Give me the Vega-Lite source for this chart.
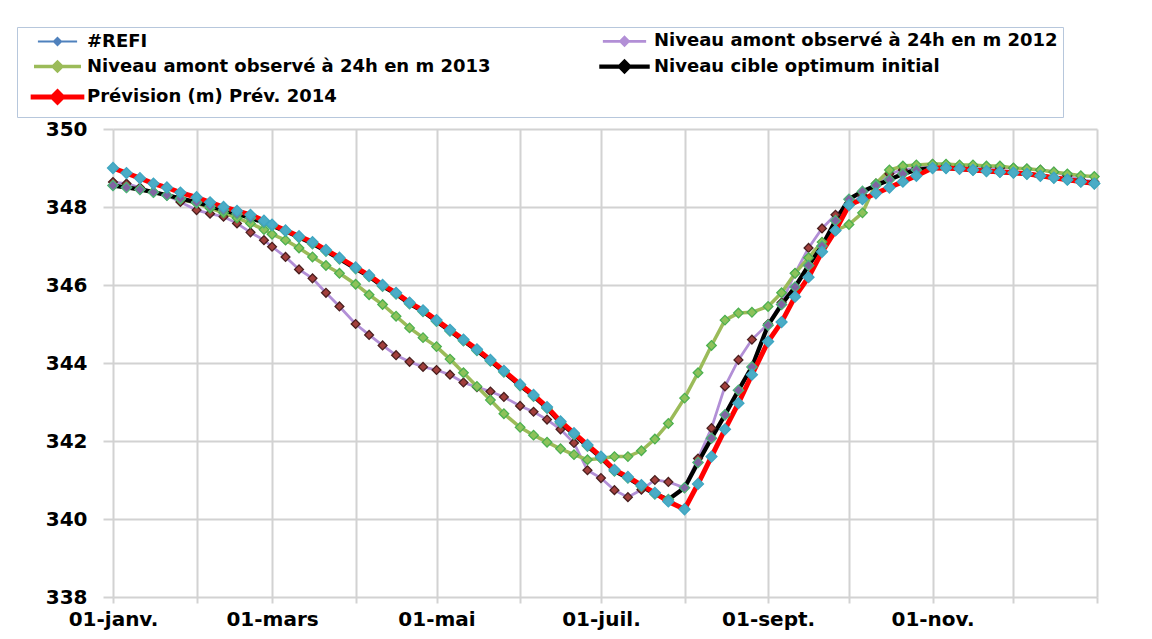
{
"$schema": "https://vega.github.io/schema/vega-lite/v6.json",
"width": 984, "height": 468,
"autosize": {"type": "none"},
"padding": {"left": 113, "top": 129, "right": 55, "bottom": 42},
"background": "white",
"config": {"view": {"stroke": null}, "font": "DejaVu Sans"},
"datasets": {"raw": [
{"s":"a12","d":"2014-01-01","v":348.64},{"s":"a12","d":"2014-01-06","v":348.6},{"s":"a12","d":"2014-01-11","v":348.5},{"s":"a12","d":"2014-01-16","v":348.38},{"s":"a12","d":"2014-01-21","v":348.3},{"s":"a12","d":"2014-01-26","v":348.13},
{"s":"a12","d":"2014-02-01","v":347.92},{"s":"a12","d":"2014-02-06","v":347.83},{"s":"a12","d":"2014-02-11","v":347.75},{"s":"a12","d":"2014-02-16","v":347.58},{"s":"a12","d":"2014-02-21","v":347.35},{"s":"a12","d":"2014-02-26","v":347.15},
{"s":"a12","d":"2014-03-01","v":346.98},{"s":"a12","d":"2014-03-06","v":346.72},{"s":"a12","d":"2014-03-11","v":346.4},{"s":"a12","d":"2014-03-16","v":346.17},{"s":"a12","d":"2014-03-21","v":345.8},{"s":"a12","d":"2014-03-26","v":345.45},
{"s":"a12","d":"2014-04-01","v":345.0},{"s":"a12","d":"2014-04-06","v":344.72},{"s":"a12","d":"2014-04-11","v":344.45},{"s":"a12","d":"2014-04-16","v":344.2},{"s":"a12","d":"2014-04-21","v":344.03},{"s":"a12","d":"2014-04-26","v":343.9},
{"s":"a12","d":"2014-05-01","v":343.82},{"s":"a12","d":"2014-05-06","v":343.7},{"s":"a12","d":"2014-05-11","v":343.5},{"s":"a12","d":"2014-05-16","v":343.38},{"s":"a12","d":"2014-05-21","v":343.27},{"s":"a12","d":"2014-05-26","v":343.13},
{"s":"a12","d":"2014-06-01","v":342.9},{"s":"a12","d":"2014-06-06","v":342.75},{"s":"a12","d":"2014-06-11","v":342.55},{"s":"a12","d":"2014-06-16","v":342.3},{"s":"a12","d":"2014-06-21","v":341.95},{"s":"a12","d":"2014-06-26","v":341.25},
{"s":"a12","d":"2014-07-01","v":341.05},{"s":"a12","d":"2014-07-06","v":340.74},{"s":"a12","d":"2014-07-11","v":340.56},{"s":"a12","d":"2014-07-16","v":340.75},{"s":"a12","d":"2014-07-21","v":341.0},{"s":"a12","d":"2014-07-26","v":340.95},
{"s":"a12","d":"2014-08-01","v":340.8},{"s":"a12","d":"2014-08-06","v":341.55},{"s":"a12","d":"2014-08-11","v":342.33},{"s":"a12","d":"2014-08-16","v":343.4},{"s":"a12","d":"2014-08-21","v":344.08},{"s":"a12","d":"2014-08-26","v":344.6},
{"s":"a12","d":"2014-09-01","v":345.0},{"s":"a12","d":"2014-09-06","v":345.55},{"s":"a12","d":"2014-09-11","v":346.3},{"s":"a12","d":"2014-09-16","v":346.95},{"s":"a12","d":"2014-09-21","v":347.45},{"s":"a12","d":"2014-09-26","v":347.8},
{"s":"a12","d":"2014-10-01","v":348.05},{"s":"a12","d":"2014-10-06","v":348.3},{"s":"a12","d":"2014-10-11","v":348.6},{"s":"a12","d":"2014-10-16","v":348.85},{"s":"a12","d":"2014-10-21","v":348.95},{"s":"a12","d":"2014-10-26","v":349.0},
{"s":"a12","d":"2014-11-01","v":349.1},{"s":"a12","d":"2014-11-06","v":349.08},{"s":"a12","d":"2014-11-11","v":349.05},{"s":"a12","d":"2014-11-16","v":349.05},{"s":"a12","d":"2014-11-21","v":349.02},{"s":"a12","d":"2014-11-26","v":349.0},
{"s":"a12","d":"2014-12-01","v":349.0},{"s":"a12","d":"2014-12-06","v":348.98},{"s":"a12","d":"2014-12-11","v":348.95},{"s":"a12","d":"2014-12-16","v":348.9},{"s":"a12","d":"2014-12-21","v":348.8},{"s":"a12","d":"2014-12-26","v":348.7},{"s":"a12","d":"2014-12-31","v":348.65},
{"s":"b13","d":"2014-01-01","v":348.55},{"s":"b13","d":"2014-01-06","v":348.5},{"s":"b13","d":"2014-01-11","v":348.45},{"s":"b13","d":"2014-01-16","v":348.38},{"s":"b13","d":"2014-01-21","v":348.3},{"s":"b13","d":"2014-01-26","v":348.2},
{"s":"b13","d":"2014-02-01","v":348.1},{"s":"b13","d":"2014-02-06","v":347.97},{"s":"b13","d":"2014-02-11","v":347.85},{"s":"b13","d":"2014-02-16","v":347.72},{"s":"b13","d":"2014-02-21","v":347.58},{"s":"b13","d":"2014-02-26","v":347.42},
{"s":"b13","d":"2014-03-01","v":347.3},{"s":"b13","d":"2014-03-06","v":347.15},{"s":"b13","d":"2014-03-11","v":346.95},{"s":"b13","d":"2014-03-16","v":346.72},{"s":"b13","d":"2014-03-21","v":346.5},{"s":"b13","d":"2014-03-26","v":346.3},
{"s":"b13","d":"2014-04-01","v":346.02},{"s":"b13","d":"2014-04-06","v":345.75},{"s":"b13","d":"2014-04-11","v":345.5},{"s":"b13","d":"2014-04-16","v":345.2},{"s":"b13","d":"2014-04-21","v":344.9},{"s":"b13","d":"2014-04-26","v":344.65},
{"s":"b13","d":"2014-05-01","v":344.42},{"s":"b13","d":"2014-05-06","v":344.1},{"s":"b13","d":"2014-05-11","v":343.75},{"s":"b13","d":"2014-05-16","v":343.4},{"s":"b13","d":"2014-05-21","v":343.05},{"s":"b13","d":"2014-05-26","v":342.7},
{"s":"b13","d":"2014-06-01","v":342.35},{"s":"b13","d":"2014-06-06","v":342.15},{"s":"b13","d":"2014-06-11","v":341.97},{"s":"b13","d":"2014-06-16","v":341.8},{"s":"b13","d":"2014-06-21","v":341.65},{"s":"b13","d":"2014-06-26","v":341.52},
{"s":"b13","d":"2014-07-01","v":341.55},{"s":"b13","d":"2014-07-06","v":341.6},{"s":"b13","d":"2014-07-11","v":341.6},{"s":"b13","d":"2014-07-16","v":341.75},{"s":"b13","d":"2014-07-21","v":342.05},{"s":"b13","d":"2014-07-26","v":342.45},
{"s":"b13","d":"2014-08-01","v":343.1},{"s":"b13","d":"2014-08-06","v":343.75},{"s":"b13","d":"2014-08-11","v":344.45},{"s":"b13","d":"2014-08-16","v":345.1},{"s":"b13","d":"2014-08-21","v":345.28},{"s":"b13","d":"2014-08-26","v":345.3},
{"s":"b13","d":"2014-09-01","v":345.45},{"s":"b13","d":"2014-09-06","v":345.8},{"s":"b13","d":"2014-09-11","v":346.3},{"s":"b13","d":"2014-09-16","v":346.7},{"s":"b13","d":"2014-09-21","v":347.1},{"s":"b13","d":"2014-09-26","v":347.4},
{"s":"b13","d":"2014-10-01","v":347.55},{"s":"b13","d":"2014-10-06","v":347.85},{"s":"b13","d":"2014-10-11","v":348.6},{"s":"b13","d":"2014-10-16","v":348.95},{"s":"b13","d":"2014-10-21","v":349.05},{"s":"b13","d":"2014-10-26","v":349.08},
{"s":"b13","d":"2014-11-01","v":349.1},{"s":"b13","d":"2014-11-06","v":349.1},{"s":"b13","d":"2014-11-11","v":349.08},{"s":"b13","d":"2014-11-16","v":349.08},{"s":"b13","d":"2014-11-21","v":349.05},{"s":"b13","d":"2014-11-26","v":349.05},
{"s":"b13","d":"2014-12-01","v":349.0},{"s":"b13","d":"2014-12-06","v":348.98},{"s":"b13","d":"2014-12-11","v":348.95},{"s":"b13","d":"2014-12-16","v":348.9},{"s":"b13","d":"2014-12-21","v":348.85},{"s":"b13","d":"2014-12-26","v":348.8},{"s":"b13","d":"2014-12-31","v":348.78},
{"s":"cib","d":"2014-01-01","v":348.55},{"s":"cib","d":"2014-01-06","v":348.5},{"s":"cib","d":"2014-01-11","v":348.45},{"s":"cib","d":"2014-01-16","v":348.38},{"s":"cib","d":"2014-01-21","v":348.3},{"s":"cib","d":"2014-01-26","v":348.22},
{"s":"cib","d":"2014-02-01","v":348.12},{"s":"cib","d":"2014-02-06","v":348.02},{"s":"cib","d":"2014-02-11","v":347.92},{"s":"cib","d":"2014-02-16","v":347.82},{"s":"cib","d":"2014-02-21","v":347.72},{"s":"cib","d":"2014-02-26","v":347.6},
{"s":"cib","d":"2014-03-01","v":347.52},{"s":"cib","d":"2014-03-06","v":347.38},{"s":"cib","d":"2014-03-11","v":347.22},{"s":"cib","d":"2014-03-16","v":347.06},{"s":"cib","d":"2014-03-21","v":346.87},{"s":"cib","d":"2014-03-26","v":346.67},
{"s":"cib","d":"2014-04-01","v":346.42},{"s":"cib","d":"2014-04-06","v":346.22},{"s":"cib","d":"2014-04-11","v":345.97},{"s":"cib","d":"2014-04-16","v":345.77},{"s":"cib","d":"2014-04-21","v":345.52},{"s":"cib","d":"2014-04-26","v":345.32},
{"s":"cib","d":"2014-05-01","v":345.07},{"s":"cib","d":"2014-05-06","v":344.82},{"s":"cib","d":"2014-05-11","v":344.57},{"s":"cib","d":"2014-05-16","v":344.32},{"s":"cib","d":"2014-05-21","v":344.05},{"s":"cib","d":"2014-05-26","v":343.77},
{"s":"cib","d":"2014-06-01","v":343.42},{"s":"cib","d":"2014-06-06","v":343.15},{"s":"cib","d":"2014-06-11","v":342.84},{"s":"cib","d":"2014-06-16","v":342.47},{"s":"cib","d":"2014-06-21","v":342.17},{"s":"cib","d":"2014-06-26","v":341.87},
{"s":"cib","d":"2014-07-01","v":341.57},{"s":"cib","d":"2014-07-06","v":341.23},{"s":"cib","d":"2014-07-11","v":341.05},{"s":"cib","d":"2014-07-16","v":340.84},{"s":"cib","d":"2014-07-21","v":340.64},{"s":"cib","d":"2014-07-26","v":340.5},
{"s":"cib","d":"2014-08-01","v":340.8},{"s":"cib","d":"2014-08-06","v":341.45},{"s":"cib","d":"2014-08-11","v":342.07},{"s":"cib","d":"2014-08-16","v":342.67},{"s":"cib","d":"2014-08-21","v":343.3},{"s":"cib","d":"2014-08-26","v":343.9},
{"s":"cib","d":"2014-09-01","v":344.97},{"s":"cib","d":"2014-09-06","v":345.5},{"s":"cib","d":"2014-09-11","v":345.95},{"s":"cib","d":"2014-09-16","v":346.5},{"s":"cib","d":"2014-09-21","v":347.0},{"s":"cib","d":"2014-09-26","v":347.65},
{"s":"cib","d":"2014-10-01","v":348.2},{"s":"cib","d":"2014-10-06","v":348.4},{"s":"cib","d":"2014-10-11","v":348.55},{"s":"cib","d":"2014-10-16","v":348.7},{"s":"cib","d":"2014-10-21","v":348.85},{"s":"cib","d":"2014-10-26","v":348.95},
{"s":"cib","d":"2014-11-01","v":349.0},{"s":"cib","d":"2014-11-06","v":349.0},{"s":"cib","d":"2014-11-11","v":348.98},{"s":"cib","d":"2014-11-16","v":348.95},{"s":"cib","d":"2014-11-21","v":348.92},{"s":"cib","d":"2014-11-26","v":348.9},
{"s":"cib","d":"2014-12-01","v":348.88},{"s":"cib","d":"2014-12-06","v":348.85},{"s":"cib","d":"2014-12-11","v":348.8},{"s":"cib","d":"2014-12-16","v":348.75},{"s":"cib","d":"2014-12-21","v":348.7},{"s":"cib","d":"2014-12-26","v":348.65},{"s":"cib","d":"2014-12-31","v":348.6},
{"s":"prev","d":"2014-01-01","v":349.0},{"s":"prev","d":"2014-01-06","v":348.87},{"s":"prev","d":"2014-01-11","v":348.74},{"s":"prev","d":"2014-01-16","v":348.6},{"s":"prev","d":"2014-01-21","v":348.5},{"s":"prev","d":"2014-01-26","v":348.37},
{"s":"prev","d":"2014-02-01","v":348.25},{"s":"prev","d":"2014-02-06","v":348.12},{"s":"prev","d":"2014-02-11","v":348.0},{"s":"prev","d":"2014-02-16","v":347.9},{"s":"prev","d":"2014-02-21","v":347.8},{"s":"prev","d":"2014-02-26","v":347.65},
{"s":"prev","d":"2014-03-01","v":347.55},{"s":"prev","d":"2014-03-06","v":347.4},{"s":"prev","d":"2014-03-11","v":347.25},{"s":"prev","d":"2014-03-16","v":347.1},{"s":"prev","d":"2014-03-21","v":346.9},{"s":"prev","d":"2014-03-26","v":346.7},
{"s":"prev","d":"2014-04-01","v":346.45},{"s":"prev","d":"2014-04-06","v":346.25},{"s":"prev","d":"2014-04-11","v":346.0},{"s":"prev","d":"2014-04-16","v":345.8},{"s":"prev","d":"2014-04-21","v":345.55},{"s":"prev","d":"2014-04-26","v":345.35},
{"s":"prev","d":"2014-05-01","v":345.1},{"s":"prev","d":"2014-05-06","v":344.85},{"s":"prev","d":"2014-05-11","v":344.6},{"s":"prev","d":"2014-05-16","v":344.35},{"s":"prev","d":"2014-05-21","v":344.08},{"s":"prev","d":"2014-05-26","v":343.8},
{"s":"prev","d":"2014-06-01","v":343.45},{"s":"prev","d":"2014-06-06","v":343.18},{"s":"prev","d":"2014-06-11","v":342.87},{"s":"prev","d":"2014-06-16","v":342.5},{"s":"prev","d":"2014-06-21","v":342.2},{"s":"prev","d":"2014-06-26","v":341.9},
{"s":"prev","d":"2014-07-01","v":341.6},{"s":"prev","d":"2014-07-06","v":341.26},{"s":"prev","d":"2014-07-11","v":341.08},{"s":"prev","d":"2014-07-16","v":340.87},{"s":"prev","d":"2014-07-21","v":340.67},{"s":"prev","d":"2014-07-26","v":340.45},
{"s":"prev","d":"2014-08-01","v":340.25},{"s":"prev","d":"2014-08-06","v":340.9},{"s":"prev","d":"2014-08-11","v":341.6},{"s":"prev","d":"2014-08-16","v":342.3},{"s":"prev","d":"2014-08-21","v":342.97},{"s":"prev","d":"2014-08-26","v":343.7},
{"s":"prev","d":"2014-09-01","v":344.55},{"s":"prev","d":"2014-09-06","v":345.05},{"s":"prev","d":"2014-09-11","v":345.7},{"s":"prev","d":"2014-09-16","v":346.2},{"s":"prev","d":"2014-09-21","v":346.85},{"s":"prev","d":"2014-09-26","v":347.4},
{"s":"prev","d":"2014-10-01","v":348.05},{"s":"prev","d":"2014-10-06","v":348.2},{"s":"prev","d":"2014-10-11","v":348.35},{"s":"prev","d":"2014-10-16","v":348.5},{"s":"prev","d":"2014-10-21","v":348.65},{"s":"prev","d":"2014-10-26","v":348.8},
{"s":"prev","d":"2014-11-01","v":349.0},{"s":"prev","d":"2014-11-06","v":349.0},{"s":"prev","d":"2014-11-11","v":348.98},{"s":"prev","d":"2014-11-16","v":348.95},{"s":"prev","d":"2014-11-21","v":348.92},{"s":"prev","d":"2014-11-26","v":348.9},
{"s":"prev","d":"2014-12-01","v":348.88},{"s":"prev","d":"2014-12-06","v":348.85},{"s":"prev","d":"2014-12-11","v":348.8},{"s":"prev","d":"2014-12-16","v":348.75},{"s":"prev","d":"2014-12-21","v":348.7},{"s":"prev","d":"2014-12-26","v":348.65},{"s":"prev","d":"2014-12-31","v":348.6}
]},
"data": {"name": "raw"},
"encoding": {
  "x": {"field": "d", "type": "temporal", "title": null,
    "scale": {"type": "utc", "domain": [{"year": 2014, "month": 1, "date": 1, "utc": true}, {"year": 2015, "month": 1, "date": 1, "utc": true}]},
    "axis": {
      "values": [
        {"year": 2014, "month": 1, "date": 1, "utc": true}, {"year": 2014, "month": 2, "date": 1, "utc": true},
        {"year": 2014, "month": 3, "date": 1, "utc": true}, {"year": 2014, "month": 4, "date": 1, "utc": true},
        {"year": 2014, "month": 5, "date": 1, "utc": true}, {"year": 2014, "month": 6, "date": 1, "utc": true},
        {"year": 2014, "month": 7, "date": 1, "utc": true}, {"year": 2014, "month": 8, "date": 1, "utc": true},
        {"year": 2014, "month": 9, "date": 1, "utc": true}, {"year": 2014, "month": 10, "date": 1, "utc": true},
        {"year": 2014, "month": 11, "date": 1, "utc": true}, {"year": 2014, "month": 12, "date": 1, "utc": true},
        {"year": 2015, "month": 1, "date": 1, "utc": true}],
      "labelExpr": "utcyear(datum.value) == 2014 ? ['01-janv.','','01-mars','','01-mai','','01-juil.','','01-sept.','','01-nov.',''][utcmonth(datum.value)] : ''",
      "domain": false, "grid": true, "gridColor": "#D2D2D2", "gridWidth": 2,
      "ticks": true, "tickColor": "#D2D2D2", "tickWidth": 2, "tickSize": 6,
      "labelFont": "DejaVu Sans", "labelFontWeight": "bold", "labelFontSize": 20, "labelColor": "#000000",
      "labelPadding": 6, "labelOverlap": false, "labelFlush": false
    }
  },
  "y": {"field": "v", "type": "quantitative", "title": null,
    "scale": {"domain": [338, 350], "nice": false, "zero": false},
    "axis": {"values": [338, 340, 342, 344, 346, 348, 350],
      "domain": false, "grid": true, "gridColor": "#D2D2D2", "gridWidth": 2,
      "ticks": true, "tickColor": "#D2D2D2", "tickWidth": 2, "tickSize": 10,
      "labelFont": "DejaVu Sans", "labelFontWeight": "bold", "labelFontSize": 20, "labelColor": "#000000",
      "labelPadding": 16}
  }
},
"layer": [
  {"mark": {"type": "line", "interpolate": "linear"},
   "encoding": {
     "color": {"field": "s", "type": "nominal",
       "scale": {"domain": ["refi", "a12", "b13", "cib", "prev"], "range": ["#4F81BD", "#B28FD6", "#9BBB59", "#000000", "#FF0000"]},
       "legend": {
         "title": null, "orient": "none", "legendX": -96, "legendY": -102, "columns": 2, "direction": "horizontal",
         "columnPadding": 98, "rowPadding": 1.5, "padding": 5,
         "strokeColor": "#B7C7DC", "fillColor": "#FFFFFF",
         "labelFont": "DejaVu Sans", "labelFontSize": 18, "labelFontWeight": "bold", "labelColor": "#000000",
         "labelOffset": 20.5, "labelLimit": 700,
         "symbolType": "M-4.9,0L4.9,0M0,-0.9L0.9,0L0,0.9L-0.9,0ZM0,-0.6L0.6,0L0,0.6L-0.6,0ZM0,-0.3L0.3,0L0,0.3L-0.3,0Z",
         "symbolSize": 100, "symbolStrokeWidth": 2.5, "symbolOffset": 26.5,
         "labelExpr": "datum.value == 'refi' ? '#REFI' : datum.value == 'a12' ? 'Niveau amont observé à 24h en m 2012' : datum.value == 'b13' ? 'Niveau amont observé à 24h en m 2013' : datum.value == 'cib' ? 'Niveau cible optimum initial' : 'Prévision (m) Prév. 2014'"
       }},
     "strokeWidth": {"field": "s", "type": "nominal", "scale": {"domain": ["refi", "a12", "b13", "cib", "prev"], "range": [2, 5, 3.5, 2.5, 3.5]}, "legend": null}
   }},
  {"mark": {"type": "point", "shape": "diamond", "filled": true, "opacity": 1, "strokeWidth": 1.3},
   "encoding": {
     "fill": {"field": "s", "type": "nominal", "scale": {"domain": ["refi", "a12", "b13", "cib", "prev"], "range": ["#4F81BD", "#A23F3C", "#8DC25A", "#8064A2", "#4BACC6"]}, "legend": null},
     "stroke": {"field": "s", "type": "nominal", "scale": {"domain": ["refi", "a12", "b13", "cib", "prev"], "range": ["#4F81BD", "#4A1F1F", "#4CB050", "#4DB37A", "#3FA6C2"]}, "legend": null},
     "size": {"field": "s", "type": "nominal", "scale": {"domain": ["refi", "a12", "b13", "cib", "prev"], "range": [64, 120, 100, 70, 180]}, "legend": null}
   }}
]
}
